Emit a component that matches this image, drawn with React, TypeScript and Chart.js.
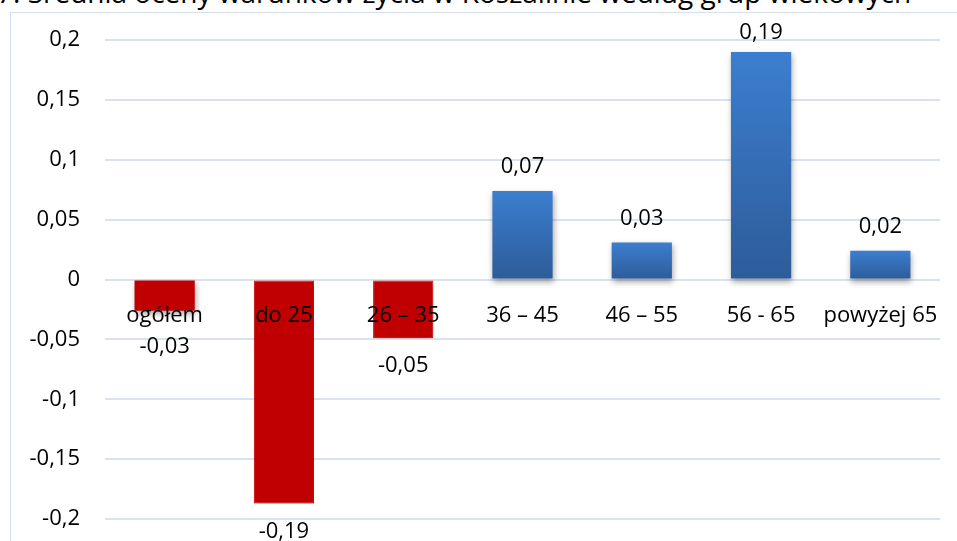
import React, { useEffect, useRef } from "react";
import { Chart, registerables } from "chart.js";

Chart.register(...registerables);

const TITLE = "7. Średnia oceny warunków życia w Koszalinie według grup wiekowych";
const categories = ["ogółem", "do 25", "26 – 35", "36 – 45", "46 – 55", "56 - 65", "powyżej 65"];
const values = [-0.026, -0.187, -0.049, 0.074, 0.031, 0.19, 0.024];
const yMin = -0.2;
const yMax = 0.2;
const yStep = 0.05;

const FONT = "'Open Sans', 'Noto Sans', sans-serif";

const fmt = (v: number, digits?: number) => {
  if (Math.abs(v) < 1e-9) return "0";
  const s = digits !== undefined ? v.toFixed(digits) : String(Math.round(v * 100) / 100);
  return s.replace(".", ",");
};

const shadowPlugin = {
  id: "barShadow",
  beforeDatasetsDraw(chart: any) {
    const ctx = chart.ctx;
    ctx.save();
    ctx.shadowColor = "rgba(0,0,0,0.35)";
    ctx.shadowBlur = 6;
    ctx.shadowOffsetX = 1;
    ctx.shadowOffsetY = 3;
  },
  afterDatasetsDraw(chart: any) {
    chart.ctx.restore();
    const ctx = chart.ctx;
    const meta = chart.getDatasetMeta(0);
    const area = chart.chartArea;
    ctx.save();
    ctx.font = `22px ${FONT}`;
    ctx.fillStyle = "#000";
    ctx.textAlign = "center";
    ctx.textBaseline = "middle";
    meta.data.forEach((el: any, i: number) => {
      const v = values[i];
      let cy: number;
      if (v >= 0) {
        cy = Math.max(el.y - 24, area.top - 7);
      } else {
        cy = Math.max(el.y + 28, el.base + 66);
      }
      ctx.fillText(fmt(v, 2), el.x, cy);
    });
    ctx.restore();
  },
};

export default function App() {
  const ref = useRef<HTMLCanvasElement | null>(null);
  useEffect(() => {
    if (!ref.current) return;
    const chart = new Chart(ref.current, {
      type: "bar",
      data: {
        labels: categories,
        datasets: [
          {
            data: values,
            backgroundColor: (c: any) => {
              const v = values[c.dataIndex];
              if (v < 0) return "#C00000";
              const ys = c.chart.scales?.y;
              if (!ys || ys.top === undefined) return "#3A78C6";
              const top = ys.getPixelForValue(v);
              const base = ys.getPixelForValue(0);
              if (!isFinite(top) || !isFinite(base) || top === base) return "#3A78C6";
              const g = c.chart.ctx.createLinearGradient(0, top, 0, base);
              g.addColorStop(0, "#3C7ECF");
              g.addColorStop(1, "#2D5C99");
              return g;
            },
            borderColor: ["#C00000", "#F00000", "#F00000", "#3C7ECF", "#3C7ECF", "#3C7ECF", "#3C7ECF"],
            borderWidth: [0, 1, 1, 0, 0, 0, 0],
            borderSkipped: false,
            categoryPercentage: 1,
            barPercentage: 0.505,
          },
        ],
      },
      options: {
        responsive: false,
        maintainAspectRatio: false,
        animation: false,
        layout: { padding: { top: 40, bottom: 22, right: 17, left: 0 } },
        plugins: { legend: { display: false }, tooltip: { enabled: false }, title: { display: false } },
        scales: {
          x: {
            position: { y: 0 } as any,
            grid: { display: false, drawTicks: false },
            border: { display: false },
            afterFit: (s: any) => {
              s.height = 0;
              s.paddingBottom = 0;
              s.paddingTop = 0;
              s.paddingLeft = 0;
              s.paddingRight = 0;
            },
            ticks: { z: 1, color: "#000", font: { family: FONT, size: 22 }, padding: 23, maxRotation: 0, autoSkip: false },
          },
          y: {
            min: yMin,
            max: yMax,
            grid: { color: "#D9E2F1", lineWidth: 2, drawTicks: false },
            border: { display: false },
            afterFit: (s: any) => {
              s.width = 105;
              s.paddingBottom = 0;
              s.paddingTop = 0;
            },
            ticks: {
              stepSize: yStep,
              color: "#000",
              padding: 25,
              font: { family: FONT, size: 22 },
              callback: (v: any) => fmt(Number(v)),
            },
          },
        },
      },
      plugins: [shadowPlugin],
    });
    return () => chart.destroy();
  }, []);

  return (
    <div
      style={{
        position: "fixed",
        left: 0,
        top: 0,
        width: 957,
        height: 541,
        overflow: "hidden",
        background: "#fff",
      }}
    >
      <div
        style={{
          position: "absolute",
          left: -3,
          top: -27,
          fontFamily: FONT,
          fontSize: 28,
          lineHeight: "38px",
          whiteSpace: "nowrap",
          color: "#000",
        }}
      >
        {TITLE}
      </div>
      <div
        style={{
          position: "absolute",
          left: 10,
          top: 12,
          width: 980,
          height: 560,
          border: "1px solid #D6DFEE",
          boxSizing: "border-box",
        }}
      />
      <canvas ref={ref} width={957} height={541} style={{ position: "absolute", left: 0, top: 0 }} />
    </div>
  );
}
